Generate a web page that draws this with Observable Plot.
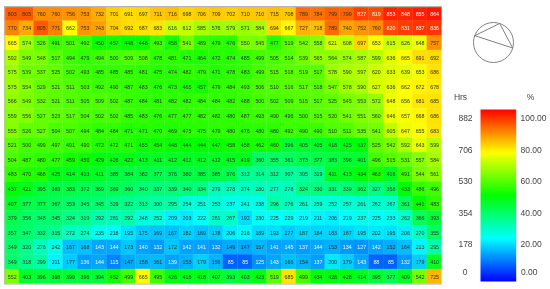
<!DOCTYPE html>
<html><head><meta charset="utf-8">
<script src="https://cdn.jsdelivr.net/npm/d3@7"></script>
<script src="https://cdn.jsdelivr.net/npm/@observablehq/plot@0.6"></script>
<style>
html,body{margin:0;padding:0;background:#fff}
#page{position:relative;width:550px;height:289px;overflow:hidden;filter:blur(.35px)}
#page>div{position:absolute}
svg{display:block;background:transparent}
</style></head><body><div id="page"><div id="heat" style="left:0;top:0"></div><div id="ring" style="left:468px;top:17px"></div><div id="hrs" style="left:440px;top:85px"></div><div id="bar" style="left:470px;top:100px"></div></div>
<script>
const row01=[803,805,760,760,756,753,732,701,691,697,711,716,698,706,709,702,710,710,715,708,789,784,799,799,827,819,853,848,855,864];
const row02=[770,734,805,771,662,753,743,704,692,687,683,616,612,585,576,579,571,584,694,667,727,718,789,740,752,760,820,831,837,836];
const row03=[665,574,526,491,501,492,450,457,448,448,493,458,541,489,479,476,550,545,477,519,542,558,621,608,697,653,615,626,648,757];
const row04=[592,549,548,517,494,479,494,500,509,508,478,481,471,464,472,474,485,499,505,514,539,565,564,574,587,599,636,665,691,692];
const row05=[575,539,537,525,502,493,485,485,485,481,475,474,482,479,471,478,483,499,515,518,519,517,578,590,597,620,633,639,653,686];
const row06=[575,554,529,521,511,503,492,490,487,483,476,473,465,457,479,484,493,506,510,516,517,518,547,578,590,627,636,662,672,678];
const row07=[566,549,532,521,511,505,509,502,487,484,481,482,482,484,484,482,488,500,502,509,515,517,525,545,553,572,648,656,681,685];
const row08=[559,556,527,523,517,504,502,502,485,483,476,477,477,482,482,480,487,493,490,496,500,515,520,541,551,560,646,657,668,686];
const row09=[555,526,527,504,507,494,484,484,471,471,470,469,475,475,479,480,476,480,480,492,490,490,510,511,535,541,605,647,655,683];
const row10=[521,500,499,497,491,490,472,472,471,455,454,448,444,444,447,458,458,462,460,396,405,405,418,425,437,525,542,592,643,599];
const row11=[504,487,480,477,459,450,429,426,422,413,411,412,412,412,412,415,419,360,355,361,373,377,383,396,401,496,515,531,557,584];
const row12=[483,470,468,425,414,413,411,385,384,382,377,376,380,385,385,376,312,314,312,307,305,319,411,413,434,463,416,491,544,561];
const row13=[437,421,395,383,383,372,369,369,360,340,337,339,340,334,279,278,274,280,277,278,324,330,331,339,362,327,358,433,486,496];
const row14=[407,377,377,367,353,345,345,329,322,313,300,295,254,251,253,237,241,238,296,276,261,259,252,257,261,262,267,361,441,483];
const row15=[379,356,348,345,324,319,292,281,292,248,252,209,203,222,261,267,192,230,225,229,219,211,206,219,237,225,233,262,366,393];
const row16=[357,347,332,315,272,274,235,218,195,175,169,167,182,169,178,206,216,189,193,177,187,184,183,187,195,202,195,206,270,355];
const row17=[349,320,276,242,167,168,143,144,173,140,132,172,142,141,132,149,147,157,141,145,137,144,153,134,127,142,152,164,213,295];
const row18=[349,318,299,211,177,136,144,115,147,158,161,139,153,179,156,85,85,125,143,166,154,137,200,179,143,88,85,132,179,410];
const row19=[552,403,396,398,399,396,394,452,499,665,495,426,418,418,407,393,403,423,519,685,499,434,428,428,414,395,377,409,542,725];
const rows=[row01,row02,row03,row04,row05,row06,row07,row08,row09,row10,row11,row12,row13,row14,row15,row16,row17,row18,row19];

const hrsTicks=[882,706,530,354,178,0];
const pctTicks=["100.00","80.00","60.00","40.00","20.00","0.00"];
const maxHrs=882;
const rampStops=[0,25,50,75,100];
const rampColors=["#0000ff","#00ffff","#00ff00","#ffff00","#ff0000"];
const ringAngles=[160,72,-16];

const font="'Liberation Sans',Arial,sans-serif";
const cells=rows.flatMap((r,i)=>r.map((v,j)=>({row:i,col:j,v,pct:v/maxHrs*100})));
const colorScale={type:"linear",domain:rampStops,range:rampColors,interpolate:"rgb"};
const isLight=d=>d.v<147||d.v>=815;

document.getElementById("heat").append(Plot.plot({
  width:442,height:285,marginLeft:4.4,marginRight:0.6,marginTop:6.2,marginBottom:1.4,
  style:{background:"transparent",fontFamily:font},
  x:{type:"band",domain:d3.range(30),axis:null,padding:0,round:false},
  y:{type:"band",domain:d3.range(19),axis:null,padding:0,round:false},
  color:colorScale,
  marks:[
    Plot.cell(cells,{x:"col",y:"row",fill:"pct",stroke:"pct",strokeWidth:0.3}),
    Plot.text(cells.filter(d=>!isLight(d)),{x:"col",y:"row",text:d=>String(d.v),fontSize:5.3,fill:"#2a3326"}),
    Plot.text(cells.filter(isLight),{x:"col",y:"row",text:d=>String(d.v),fontSize:5.3,fill:"#f4f4f4"}),
    Plot.frame({stroke:"#b5b5b5",strokeWidth:1.2,anchor:"top"}),
    Plot.frame({stroke:"#b5b5b5",strokeWidth:1,anchor:"left"}),
    Plot.frame({stroke:"#b5b5b5",strokeWidth:1,anchor:"bottom"})
  ]
}));

const ringPts=[...ringAngles,ringAngles[0]].map(a=>({x:Math.cos(a*Math.PI/180),y:Math.sin(a*Math.PI/180)}));
document.getElementById("ring").append(Plot.plot({
  width:50,height:50,margin:5,
  style:{background:"transparent"},
  x:{domain:[-1,1],axis:null},y:{domain:[-1,1],axis:null},
  marks:[
    Plot.dot([{x:0,y:0}],{x:"x",y:"y",r:20,stroke:"#808080",strokeWidth:1,fill:"none"}),
    Plot.line(ringPts,{x:"x",y:"y",stroke:"#808080",strokeWidth:1,curve:"linear"})
  ]
}));

const hrsRows=hrsTicks.map((h,i)=>({h,p:pctTicks[i],pos:100-i*20}));
document.getElementById("hrs").append(Plot.plot({
  width:110,height:200,marginLeft:0,marginRight:0,marginTop:0,marginBottom:0,
  style:{background:"transparent",fontFamily:font},
  x:{domain:[0,110],axis:null},
  y:{domain:[0,100],range:[190.5,33],axis:null},
  marks:[
    Plot.text(hrsRows.slice(0,5),{x:()=>25,y:"pos",text:d=>String(d.h),fontSize:8.5,fill:"#444"}),
    Plot.text(hrsRows.slice(0,5),{x:()=>80,y:"pos",text:"p",fontSize:8.5,fill:"#444",textAnchor:"start"}),
    Plot.text(hrsRows.slice(5),{x:()=>24.5,y:"pos",text:d=>String(d.h),fontSize:8.5,fill:"#444",dy:-4}),
    Plot.text(hrsRows.slice(5),{x:()=>80.5,y:"pos",text:"p",fontSize:8.5,fill:"#444",textAnchor:"start",dy:-4}),
    Plot.text(["Hrs"],{x:()=>20,y:()=>100,dy:-21,text:d=>d,fontSize:8.5,fill:"#444"}),
    Plot.text(["%"],{x:()=>90,y:()=>100,dy:-21,text:d=>d,fontSize:8.5,fill:"#444"})
  ]
}));

document.getElementById("bar").append(Plot.plot({
  width:60,height:190,margin:0,
  style:{background:"transparent"},
  x:{domain:[0,60],axis:null},
  y:{domain:[0,100],range:[181,9],axis:null},
  color:colorScale,
  marks:[Plot.raster({x1:10,x2:45.7,y1:0,y2:100,width:4,height:172,fill:(x,y)=>y,imageRendering:"auto"})]
}));
</script></body></html>
